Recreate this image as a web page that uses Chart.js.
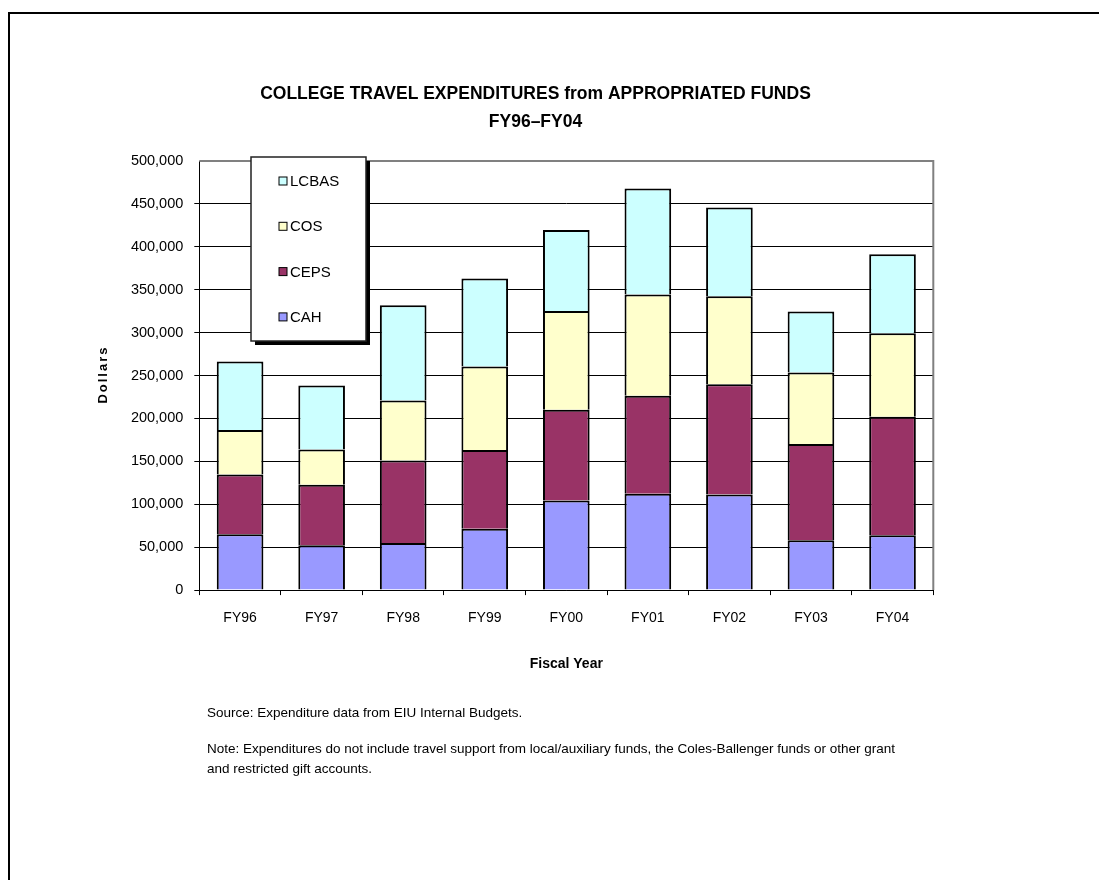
<!DOCTYPE html>
<html><head><meta charset="utf-8">
<script src="https://cdn.jsdelivr.net/npm/chart.js@4.4.1/dist/chart.umd.min.js"></script>
<style>html,body{margin:0;padding:0;background:#fff;overflow:hidden;} #wrap{width:1099px;height:880px;position:relative;}</style>
</head><body><div id="wrap"><canvas id="c" width="1099" height="880"></canvas></div>
<script>
const categories  = ['FY96','FY97','FY98','FY99','FY00','FY01','FY02','FY03','FY04'];
const cahValues   = [65000, 52200, 55000, 71600, 104500, 112300, 111500, 58100, 63900];
const cepsValues  = [69700, 70500, 95900, 91700, 105600, 114100, 128500, 112200, 138100];
const cosValues   = [51900, 41000, 70100, 97200, 115000, 118100, 102500, 83300, 97200];
const lcbasValues = [79700, 74800, 111000, 102500, 94500, 123400, 103300, 71100, 92100];
const seriesNames = ['CAH','CEPS','COS','LCBAS'];
const seriesColors = ['#9999FF','#993366','#FFFFCC','#CCFFFF'];
const yMin = 0, yMax = 500000, yStep = 50000;
const titleLines = ['COLLEGE TRAVEL EXPENDITURES from APPROPRIATED FUNDS','FY96\u2013FY04'];
const yAxisTitle = 'Dollars';
const xAxisTitle = 'Fiscal Year';
const noteLines = ['Source: Expenditure data from EIU Internal Budgets.','','Note: Expenditures do not include travel support from local/auxiliary funds, the Coles-Ballenger funds or other grant','and restricted gift accounts.'];

const FONT = "'Liberation Sans', Arial, sans-serif";

const decorPlugin = {
  id: 'decor',
  beforeDatasetsDraw(chart) {
    const {ctx, chartArea: a} = chart;
    ctx.save();
    ctx.strokeStyle = '#808080';
    ctx.lineWidth = 2;
    ctx.beginPath();
    ctx.moveTo(a.left, a.top);
    ctx.lineTo(a.right, a.top);
    ctx.lineTo(a.right, a.bottom);
    ctx.stroke();
    ctx.restore();
  },
  afterDraw(chart) {
    const {ctx, chartArea: a} = chart;
    ctx.save();
    // outer frame
    ctx.strokeStyle = '#000';
    ctx.lineWidth = 2;
    ctx.strokeRect(9, 13, 3000, 3000);
    // title
    ctx.fillStyle = '#000';
    ctx.textAlign = 'center';
    ctx.textBaseline = 'alphabetic';
    ctx.font = 'bold 17.5px ' + FONT;
    ctx.fillText(titleLines[0], 535.5, 98.5);
    ctx.fillText(titleLines[1], 535.5, 126.5);
    // y-axis title
    ctx.save();
    ctx.translate(107, (a.top + a.bottom) / 2);
    ctx.rotate(-Math.PI / 2);
    ctx.font = 'bold 13px ' + FONT;
    ctx.letterSpacing = '2px';
    ctx.textAlign = 'center';
    ctx.textBaseline = 'alphabetic';
    ctx.fillText(yAxisTitle, 1, 0);
    ctx.restore();
    // notes
    ctx.font = '13.5px ' + FONT;
    ctx.textAlign = 'left';
    ctx.textBaseline = 'alphabetic';
    const ys = [716.5, 0, 753, 773];
    noteLines.forEach((t, i) => { if (t) ctx.fillText(t, 207, ys[i]); });
    // legend
    const lx = 251, ly = 157, lw = 115, lh = 184;
    ctx.fillStyle = '#000';
    ctx.fillRect(lx + 4, ly + 4, lw, lh);
    ctx.fillStyle = '#fff';
    ctx.fillRect(lx, ly, lw, lh);
    ctx.strokeStyle = '#222';
    ctx.lineWidth = 1.5;
    ctx.strokeRect(lx, ly, lw, lh);
    ctx.font = '15px ' + FONT;
    ctx.textBaseline = 'middle';
    const ds = chart.data.datasets;
    const order = [3, 2, 1, 0];
    order.forEach((di, k) => {
      const cy = 181 + k * 45.3;
      ctx.fillStyle = ds[di].backgroundColor;
      ctx.fillRect(279, cy - 4, 8, 8);
      ctx.strokeStyle = '#000';
      ctx.lineWidth = 1;
      ctx.strokeRect(279, cy - 4, 8, 8);
      ctx.fillStyle = '#000';
      ctx.fillText(ds[di].label, 290, cy + 1);
    });
    ctx.restore();
  }
};

const valueArrays = [cahValues, cepsValues, cosValues, lcbasValues];
const datasets = seriesNames.map((n, i) => ({
  label: n,
  data: valueArrays[i],
  backgroundColor: seriesColors[i],
  borderColor: '#000',
  borderWidth: 2,
  barPercentage: 0.572,
  categoryPercentage: 1.0
}));

new Chart(document.getElementById('c'), {
  type: 'bar',
  data: { labels: categories, datasets },
  options: {
    responsive: false,
    animation: false,
    layout: { padding: { left: 0, right: 165.7, top: 161, bottom: 207.3 } },
    plugins: { legend: { display: false }, title: { display: false }, tooltip: { enabled: false } },
    scales: {
      x: {
        stacked: true,
        grid: { offset: true, drawOnChartArea: false, drawTicks: true, tickLength: 5, color: '#000', lineWidth: 1 },
        border: { color: '#000', width: 1 },
        ticks: { color: '#000', font: { family: FONT, size: 14 }, padding: 15, maxRotation: 0 },
        title: { display: true, text: xAxisTitle, color: '#000', font: { family: FONT, size: 14, weight: 'bold' }, padding: { top: 14, bottom: 0 } }
      },
      y: {
        stacked: true,
        min: yMin, max: yMax,
        afterFit(scale) { scale.width = 199.3; },
        ticks: { stepSize: yStep, color: '#000', font: { family: FONT, size: 14.5 }, padding: 11 },
        grid: { color: (c) => (c.tick && c.tick.value === yMax) ? 'rgba(0,0,0,0)' : '#000', lineWidth: 1, tickLength: 5, drawTicks: true },
        border: { color: '#000', width: 1 }
      }
    }
  },
  plugins: [decorPlugin]
});
</script></body></html>
